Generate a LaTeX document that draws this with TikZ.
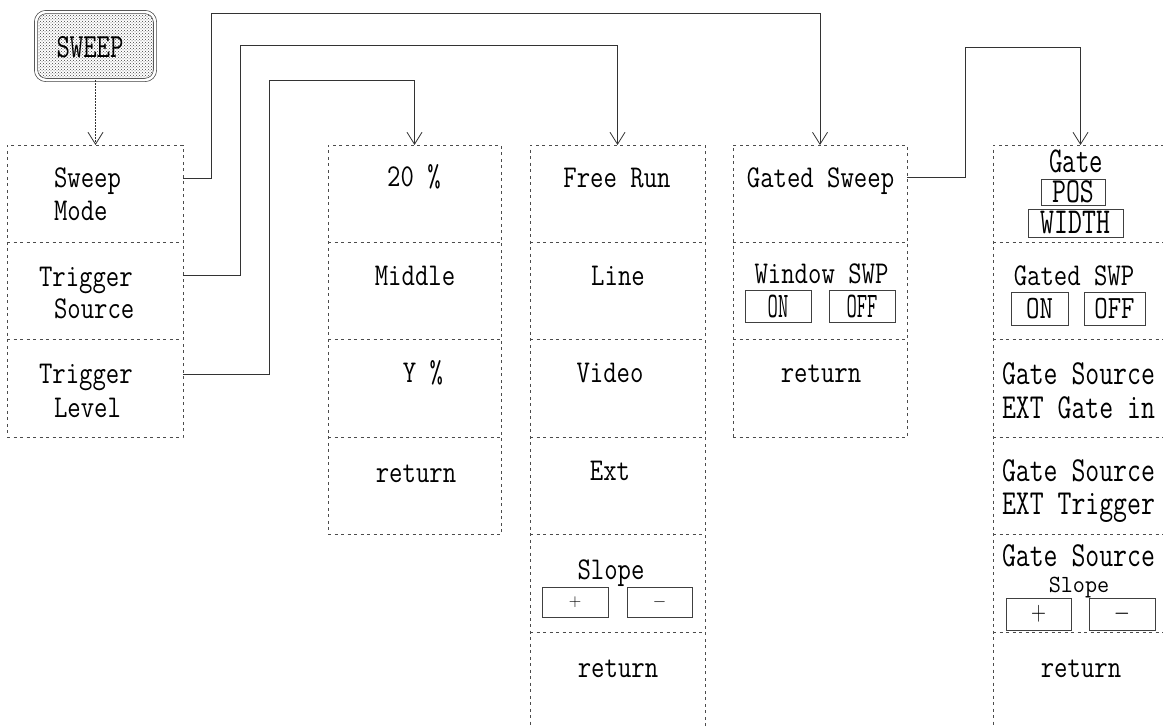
\documentclass[tikz,border=0pt]{standalone}
\usepackage{fontspec}
\usepackage{graphicx}
\usetikzlibrary{arrows.meta,calc,patterns}
\newcommand\vstr[2]{\scalebox{1}[#1]{#2}}
\newcommand\tfont[1]{\fontsize{#1}{#1}\selectfont\ttfamily}
\tikzset{
  every node/.style={inner sep=0pt, outer sep=0pt},
  lbl/.style={font=\tfont{26}, anchor=base},
  lblw/.style={font=\tfont{26}, anchor=base west},
  lble/.style={font=\tfont{26}, anchor=base east},
  column/.style={draw=black!70, line width=0.8pt, dash pattern=on 3pt off 3.5pt},
  divider/.style={draw=black!70, line width=0.8pt, dash pattern=on 3pt off 3.5pt},
  keybox/.style={draw=black!75, line width=0.8pt, inner sep=0pt},
  conn/.style={draw=black!80, line width=0.8pt, -{Straight Barb[length=12pt,width=15pt]}},
  sweepbtn/.style={draw=black!75, line width=0.7pt, double=white, double distance=2.5pt,
    rounded corners=10pt, minimum width=119pt, minimum height=68pt,
    pattern=crosshatch dots, pattern color=black!75},
}
\begin{document}
\begin{tikzpicture}[x=1pt,y=-1pt]
\useasboundingbox (0,0) rectangle (1163,728);
\clip (0,0) rectangle (1163,728);

% SWEEP key
\node[sweepbtn] (sweep) at (95.5,46) {};
\node[lbl] (sweeptxt) at (90,57) {\vstr{1.3}{\tfont{26}SWEEP}};

% columns
\node[column, minimum width=176pt, minimum height=292.2pt] (col1) at (95,291.1) {};
\node[column, minimum width=173pt, minimum height=389.6pt] (col2) at (414.5,339.8) {};
\node[column, minimum width=175pt, minimum height=640pt] (col3) at (617.5,465) {};
\node[column, minimum width=174pt, minimum height=292.2pt] (col4) at (820,291.1) {};
\node[column, minimum width=175pt, minimum height=640pt] (col5) at (1080.5,465) {};

\foreach \c/\n in {col1/2, col2/3, col3/5, col4/2, col5/5}{
  \foreach \k in {1,...,\n}{
    \draw[divider] ($(\c.north west)+(0,97.4*\k)$) -- ($(\c.north east)+(0,97.4*\k)$);
  }
}

% column 1
\node[lblw] (sm1) at (54,187) {\vstr{1.22}{Sweep}};
\node[lblw] (sm2) at (54,220) {\vstr{1.22}{Mode}};
\node[lblw] (ts1) at (39,286) {\vstr{1.22}{Trigger}};
\node[lblw] (ts2) at (54,318) {\vstr{1.22}{Source}};
\node[lblw] (tl1) at (39,383) {\vstr{1.22}{Trigger}};
\node[lblw] (tl2) at (54,417) {\vstr{1.22}{Level}};

% column 2
\node[lbl] (lv1) at (414,186) {\vstr{1.22}{20 \%}};
\node[lbl] (lv2) at (415,285) {\vstr{1.22}{Middle}};
\node[lble] (lv3) at (443,382) {\vstr{1.22}{Y \%}};
\node[lbl] (lv4) at (416,482) {\vstr{1.22}{return}};

% column 3
\node[lbl] (src1) at (617,187) {\vstr{1.22}{Free Run}};
\node[lbl] (src2) at (618,285) {\vstr{1.22}{Line}};
\node[lbl] (src3) at (610,382) {\vstr{1.22}{Video}};
\node[lbl] (src4) at (610,480) {\vstr{1.22}{Ext}};
\node[lbl] (src5) at (611,579) {\vstr{1.22}{Slope}};
\node[keybox, minimum width=66pt, minimum height=30pt] (slp) at (575,602) {\vstr{1.0}{\tfont{18}$+$}};
\node[keybox, minimum width=65pt, minimum height=30pt] (slm) at (659.5,602) {\vstr{1.0}{\tfont{18}$-$}};
\node[lbl] (src6) at (618,677) {\vstr{1.22}{return}};

% column 4
\node[lbl] (md1) at (820.5,187) {\vstr{1.22}{Gated Sweep}};
\node[lbl] (md2) at (821.5,283) {\vstr{1.22}{Window SWP}};
\node[keybox, minimum width=66pt, minimum height=32pt] (won) at (778,306) {\vstr{1.8}{\tfont{20}ON}};
\node[keybox, minimum width=66pt, minimum height=32pt] (woff) at (862,306) {\vstr{1.8}{\tfont{20}OFF}};
\node[lbl] (md3) at (821,382) {\vstr{1.22}{return}};

% column 5
\node[lbl] (g1) at (1076,172) {\vstr{1.4}{Gate}};
\node[keybox, minimum width=64pt, minimum height=26pt] (gpos) at (1073,192) {\vstr{1.3}{\tfont{27}POS}};
\node[keybox, minimum width=95pt, minimum height=28pt] (gwid) at (1075.5,223) {\vstr{1.35}{\tfont{27}WIDTH}};
\node[lbl] (g2) at (1074,285) {\vstr{1.22}{Gated SWP}};
\node[keybox, minimum width=57pt, minimum height=33pt] (gon) at (1039.5,308.5) {\vstr{1.25}{\tfont{26}ON}};
\node[keybox, minimum width=61pt, minimum height=33pt] (goff) at (1114.5,308.5) {\vstr{1.25}{\tfont{26}OFF}};
\node[lblw] (g3a) at (1002,384) {\vstr{1.3}{\tfont{27}Gate Source}};
\node[lblw] (g3b) at (1002,418) {\vstr{1.3}{\tfont{27}EXT Gate in}};
\node[lblw] (g4a) at (1002,481) {\vstr{1.3}{\tfont{27}Gate Source}};
\node[lblw] (g4b) at (1002,514) {\vstr{1.3}{\tfont{27}EXT Trigger}};
\node[lblw] (g5a) at (1002,566) {\vstr{1.3}{\tfont{27}Gate Source}};
\node[lbl] (g5b) at (1079,592) {\vstr{1.05}{\tfont{23.5}Slope}};
\node[keybox, minimum width=65pt, minimum height=32pt] (gp) at (1038.5,614) {\vstr{1.3}{\tfont{20}$+$}};
\node[keybox, minimum width=66pt, minimum height=32pt] (gm) at (1122,614) {\vstr{1.3}{\tfont{20}$-$}};
\node[lbl] (g6) at (1081,677) {\vstr{1.22}{return}};

% connectors
\draw[conn, dash pattern=on 1.5pt off 1.5pt] (sweep.south) -- (sweep.south |- col1.north);
\coordinate (smS) at ($(col1.north east)+(0,33)$);
\coordinate (tsS) at ($(col1.north east)+(0,130)$);
\coordinate (tlS) at ($(col1.north east)+(0,229)$);
\coordinate (gsS) at ($(col4.north east)+(0,32)$);
\draw[conn] (smS) -- ++(28,0) |- ($(col4.north)+(0,-132)$) -- (col4.north);
\draw[conn] (tsS) -- ++(57,0) |- ($(col3.north)+(0,-100)$) -- (col3.north);
\draw[conn] (tlS) -- ++(86,0) |- ($(col2.north)+(0,-65)$) -- (col2.north);
\draw[conn] (gsS) -- ++(58,0) |- ($(col5.north)+(0,-98)$) -- (col5.north);
\end{tikzpicture}
\end{document}
